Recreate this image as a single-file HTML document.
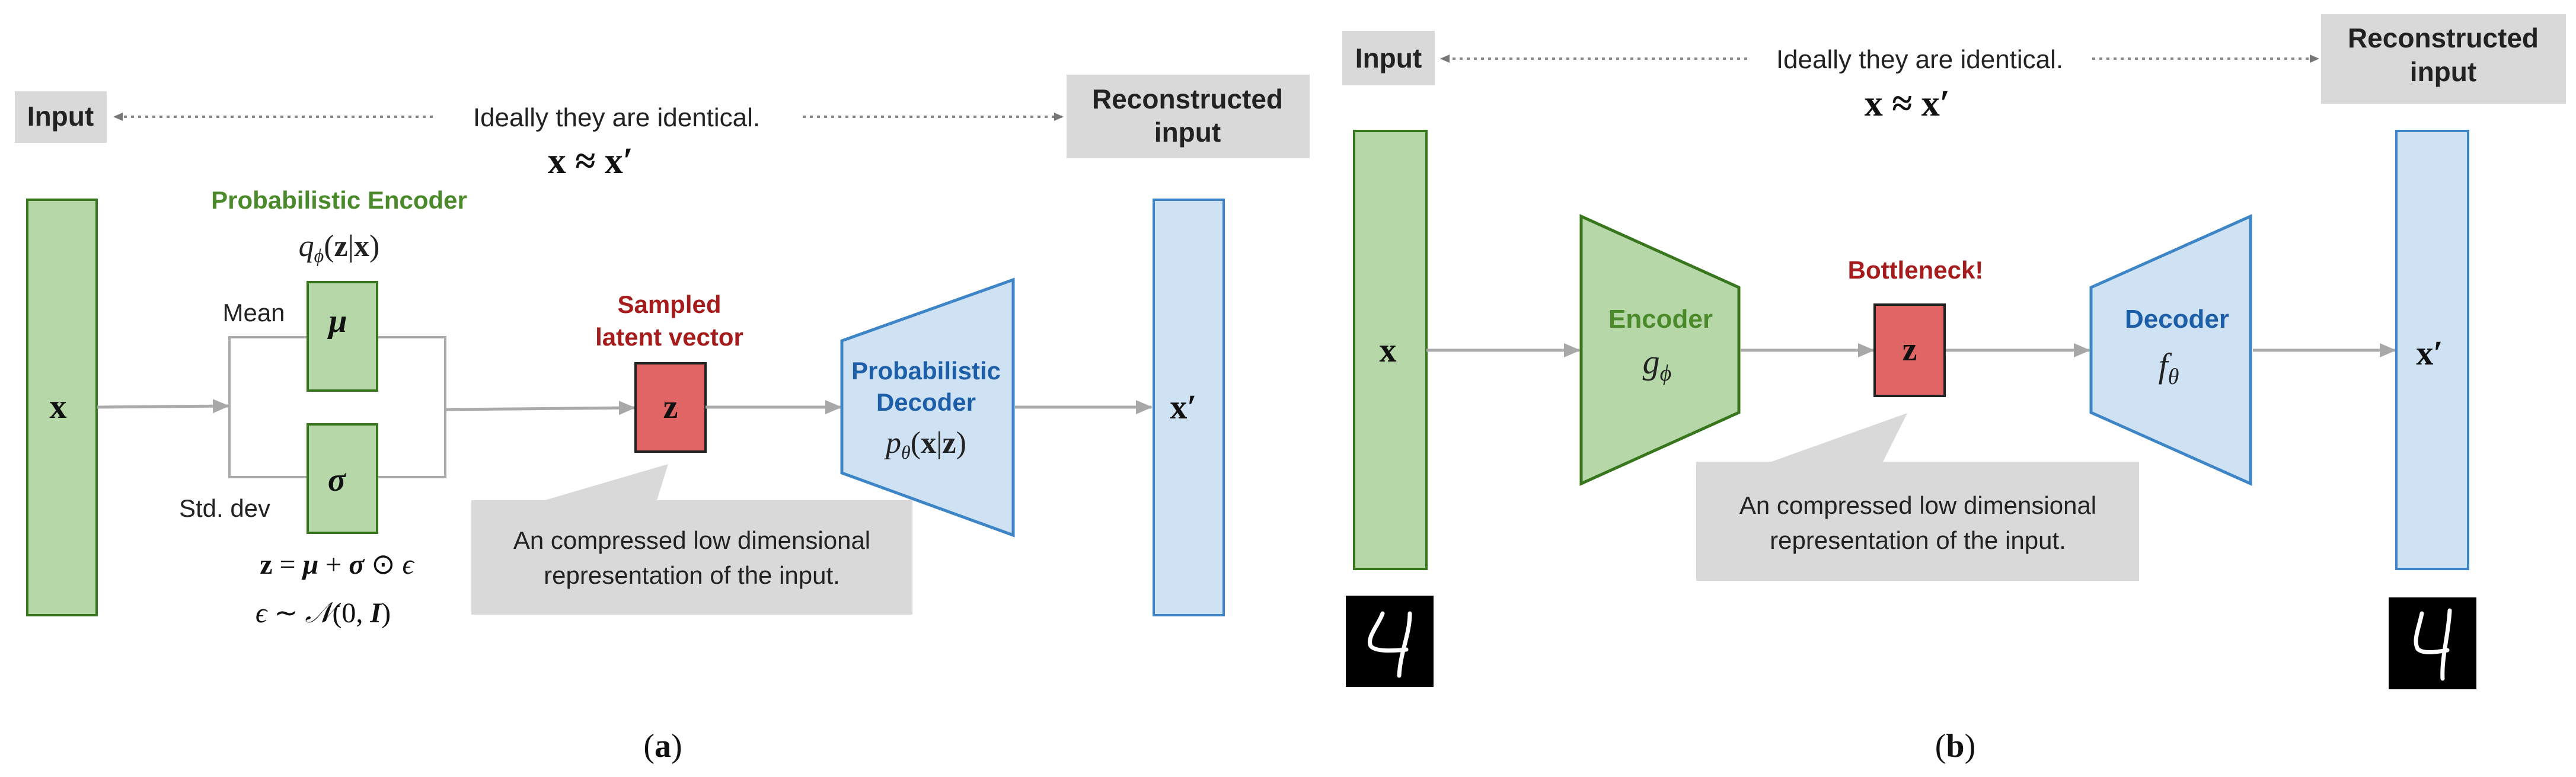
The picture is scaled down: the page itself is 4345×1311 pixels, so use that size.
<!DOCTYPE html>
<html><head><meta charset="utf-8"><style>
html,body{margin:0;padding:0;background:#fff;}
svg{display:block;}
.s{font-family:"Liberation Sans",sans-serif;}
.m{font-family:"Liberation Serif",serif;}
</style></head><body>
<svg width="4345" height="1311" viewBox="0 0 4345 1311" xmlns="http://www.w3.org/2000/svg">
<defs>
<marker id="ag" markerWidth="28" markerHeight="28" refX="26" refY="14" orient="auto" markerUnits="userSpaceOnUse"><path d="M0,2 L28,14 L0,26 z" fill="#a8a8a8"/></marker>
<marker id="ad" markerWidth="16" markerHeight="16" refX="15" refY="8" orient="auto" markerUnits="userSpaceOnUse"><path d="M0,1 L16,8 L0,15 z" fill="#777"/></marker>
</defs>

<!-- ========== Panel (a) ========== -->
<rect x="25" y="154" width="155" height="87" fill="#d9d9d9"/>
<text x="102" y="212" class="s" font-size="46" font-weight="bold" text-anchor="middle" fill="#222">Input</text>
<line x1="730" y1="197" x2="192" y2="197" stroke="#888" stroke-width="4" stroke-dasharray="5,7" marker-end="url(#ad)"/>
<text x="1040" y="213" class="s" font-size="44" text-anchor="middle" fill="#222">Ideally they are identical.</text>
<text x="996" y="292" class="m" font-size="62" font-weight="bold" text-anchor="middle" fill="#111">x ≈ x′</text>
<line x1="1354" y1="197" x2="1793" y2="197" stroke="#888" stroke-width="4" stroke-dasharray="5,7" marker-end="url(#ad)"/>
<rect x="1799" y="126" width="410" height="141" fill="#d9d9d9"/>
<text x="2003" y="183" class="s" font-size="46" font-weight="bold" text-anchor="middle" fill="#222">Reconstructed</text>
<text x="2003" y="239" class="s" font-size="46" font-weight="bold" text-anchor="middle" fill="#222">input</text>

<rect x="46" y="337" width="117" height="701" fill="#b6d7a8" stroke="#38761d" stroke-width="4"/>
<text x="98" y="705" class="m" font-size="58" font-weight="bold" text-anchor="middle" fill="#111">x</text>

<text x="572" y="352" class="s" font-size="42" font-weight="bold" text-anchor="middle" fill="#4a8a2a">Probabilistic Encoder</text>
<text x="572" y="432" class="m" font-size="52" text-anchor="middle" fill="#222"><tspan font-style="italic">q</tspan><tspan font-size="32" dy="10" font-style="italic">ϕ</tspan><tspan dy="-10">(</tspan><tspan font-weight="bold">z</tspan>|<tspan font-weight="bold">x</tspan>)</text>
<text x="428" y="542" class="s" font-size="42" text-anchor="middle" fill="#222">Mean</text>
<text x="379" y="872" class="s" font-size="42" text-anchor="middle" fill="#222">Std. dev</text>

<polyline points="519,569 387,569 387,805 519,805" fill="none" stroke="#aaa" stroke-width="4"/>
<polyline points="636,569 751,569 751,805 636,805" fill="none" stroke="#aaa" stroke-width="4"/>
<line x1="164" y1="687" x2="385" y2="685" stroke="#aaa" stroke-width="5" marker-end="url(#ag)"/>
<rect x="519" y="476" width="117" height="183" fill="#b6d7a8" stroke="#38761d" stroke-width="4"/>
<text x="570" y="560" class="m" font-size="56" font-weight="bold" font-style="italic" text-anchor="middle" fill="#111">μ</text>
<rect x="519" y="716" width="117" height="183" fill="#b6d7a8" stroke="#38761d" stroke-width="4"/>
<text x="568" y="828" class="m" font-size="56" font-weight="bold" font-style="italic" text-anchor="middle" fill="#111">σ</text>

<text x="568" y="968" class="m" font-size="48" text-anchor="middle" fill="#111"><tspan font-weight="bold">z</tspan> = <tspan font-weight="bold" font-style="italic">μ</tspan> + <tspan font-weight="bold" font-style="italic">σ</tspan> ⊙ <tspan font-style="italic">ϵ</tspan></text>
<text x="545" y="1050" class="m" font-size="48" text-anchor="middle" fill="#111"><tspan font-style="italic">ϵ</tspan> ∼ <tspan font-style="italic">𝒩</tspan>(0, <tspan font-style="italic" font-weight="bold">I</tspan>)</text>

<line x1="751" y1="691" x2="1070" y2="688" stroke="#aaa" stroke-width="5" marker-end="url(#ag)"/>
<text x="1129" y="528" class="s" font-size="42" font-weight="bold" text-anchor="middle" fill="#a61c1c">Sampled</text>
<text x="1129" y="583" class="s" font-size="42" font-weight="bold" text-anchor="middle" fill="#a61c1c">latent vector</text>
<rect x="1072" y="613" width="118" height="149" fill="#e06666" stroke="#222" stroke-width="4"/>
<text x="1131" y="705" class="m" font-size="56" font-weight="bold" text-anchor="middle" fill="#111">z</text>
<line x1="1190" y1="687" x2="1418" y2="687" stroke="#aaa" stroke-width="5" marker-end="url(#ag)"/>

<polygon points="1420,575 1709,472 1709,903 1420,798" fill="#cfe2f3" stroke="#3d85c6" stroke-width="5"/>
<text x="1562" y="640" class="s" font-size="42" font-weight="bold" text-anchor="middle" fill="#1c5fa8">Probabilistic</text>
<text x="1562" y="693" class="s" font-size="42" font-weight="bold" text-anchor="middle" fill="#1c5fa8">Decoder</text>
<text x="1562" y="764" class="m" font-size="52" text-anchor="middle" fill="#222"><tspan font-style="italic">p</tspan><tspan font-size="32" dy="10" font-style="italic">θ</tspan><tspan dy="-10">(</tspan><tspan font-weight="bold">x</tspan>|<tspan font-weight="bold">z</tspan>)</text>
<line x1="1712" y1="687" x2="1942" y2="687" stroke="#aaa" stroke-width="5" marker-end="url(#ag)"/>
<rect x="1946" y="337" width="118" height="701" fill="#cfe2f3" stroke="#3d85c6" stroke-width="4"/>
<text x="1996" y="706" class="m" font-size="58" font-weight="bold" text-anchor="middle" fill="#111">x′</text>

<polygon points="795,844 919,844 1127,783 1108,844 1539,844 1539,1037 795,1037" fill="#d9d9d9"/>
<text x="1167" y="926" class="s" font-size="42" text-anchor="middle" fill="#222">An compressed low dimensional</text>
<text x="1167" y="985" class="s" font-size="42" text-anchor="middle" fill="#222">representation of the input.</text>

<text x="1118" y="1277" class="m" font-size="56" text-anchor="middle" fill="#111">(<tspan font-weight="bold">a</tspan>)</text>

<!-- ========== Panel (b) ========== -->
<rect x="2264" y="52" width="156" height="92" fill="#d9d9d9"/>
<text x="2342" y="114" class="s" font-size="46" font-weight="bold" text-anchor="middle" fill="#222">Input</text>
<line x1="2947" y1="99" x2="2430" y2="99" stroke="#888" stroke-width="4" stroke-dasharray="5,7" marker-end="url(#ad)"/>
<text x="3238" y="115" class="s" font-size="44" text-anchor="middle" fill="#222">Ideally they are identical.</text>
<text x="3217" y="195" class="m" font-size="62" font-weight="bold" text-anchor="middle" fill="#111">x ≈ x′</text>
<line x1="3529" y1="99" x2="3911" y2="99" stroke="#888" stroke-width="4" stroke-dasharray="5,7" marker-end="url(#ad)"/>
<rect x="3915" y="24" width="413" height="151" fill="#d9d9d9"/>
<text x="4121" y="80" class="s" font-size="46" font-weight="bold" text-anchor="middle" fill="#222">Reconstructed</text>
<text x="4121" y="137" class="s" font-size="46" font-weight="bold" text-anchor="middle" fill="#222">input</text>

<rect x="2284" y="221" width="122" height="739" fill="#b6d7a8" stroke="#38761d" stroke-width="4"/>
<text x="2341" y="610" class="m" font-size="58" font-weight="bold" text-anchor="middle" fill="#111">x</text>
<line x1="2406" y1="591" x2="2664" y2="591" stroke="#aaa" stroke-width="5" marker-end="url(#ag)"/>

<polygon points="2667,365 2933,485 2933,696 2667,816" fill="#b6d7a8" stroke="#38761d" stroke-width="5"/>
<text x="2801" y="553" class="s" font-size="44" font-weight="bold" text-anchor="middle" fill="#4a8a2a">Encoder</text>
<text x="2795" y="630" class="m" font-size="58" font-style="italic" text-anchor="middle" fill="#222">g<tspan font-size="38" dy="12">ϕ</tspan></text>
<line x1="2936" y1="591" x2="3160" y2="591" stroke="#aaa" stroke-width="5" marker-end="url(#ag)"/>

<text x="3231" y="470" class="s" font-size="42" font-weight="bold" text-anchor="middle" fill="#a61c1c">Bottleneck!</text>
<rect x="3162" y="514" width="118" height="154" fill="#e06666" stroke="#222" stroke-width="4"/>
<text x="3221" y="608" class="m" font-size="56" font-weight="bold" text-anchor="middle" fill="#111">z</text>
<line x1="3282" y1="591" x2="3524" y2="591" stroke="#aaa" stroke-width="5" marker-end="url(#ag)"/>

<polygon points="3527,485 3796,365 3796,816 3527,696" fill="#cfe2f3" stroke="#3d85c6" stroke-width="5"/>
<text x="3672" y="553" class="s" font-size="44" font-weight="bold" text-anchor="middle" fill="#1c5fa8">Decoder</text>
<text x="3658" y="636" class="m" font-size="58" font-style="italic" text-anchor="middle" fill="#222">f<tspan font-size="38" dy="12">θ</tspan></text>
<line x1="3800" y1="591" x2="4040" y2="591" stroke="#aaa" stroke-width="5" marker-end="url(#ag)"/>
<rect x="4042" y="221" width="121" height="739" fill="#cfe2f3" stroke="#3d85c6" stroke-width="4"/>
<text x="4098" y="615" class="m" font-size="58" font-weight="bold" text-anchor="middle" fill="#111">x′</text>

<polygon points="2861,779 2988,779 3217,697 3176,779 3608,779 3608,980 2861,980" fill="#d9d9d9"/>
<text x="3235" y="867" class="s" font-size="42" text-anchor="middle" fill="#222">An compressed low dimensional</text>
<text x="3235" y="926" class="s" font-size="42" text-anchor="middle" fill="#222">representation of the input.</text>

<rect x="2270" y="1005" width="148" height="154" fill="#000"/>
<path d="M2332,1035 C2325,1055 2305,1075 2312,1090 C2320,1100 2350,1098 2372,1096 M2378,1035 C2378,1070 2362,1100 2360,1140" fill="none" stroke="#fff" stroke-width="7" stroke-linecap="round"/>
<rect x="4029" y="1008" width="148" height="155" fill="#000"/>
<path d="M4085,1035 C4080,1060 4070,1080 4078,1095 C4088,1104 4110,1100 4128,1097 M4132,1030 C4130,1070 4118,1110 4120,1145" fill="none" stroke="#fff" stroke-width="7" stroke-linecap="round"/>

<text x="3298" y="1277" class="m" font-size="56" text-anchor="middle" fill="#111">(<tspan font-weight="bold">b</tspan>)</text>
</svg>
</body></html>
